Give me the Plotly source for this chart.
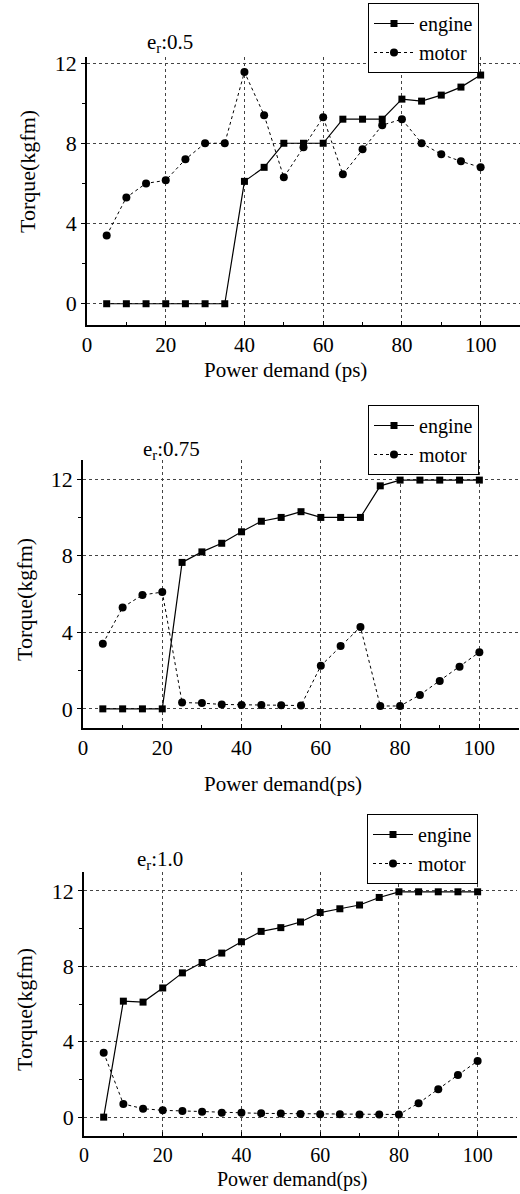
import plotly.graph_objects as go

power = [5, 10, 15, 20, 25, 30, 35, 40, 45, 50, 55, 60, 65, 70, 75, 80, 85, 90, 95, 100]

engine_050 = [0, 0, 0, 0, 0, 0, 0, 6.1, 6.8, 8.0, 8.0, 8.0, 9.2, 9.2, 9.2, 10.2, 10.1, 10.4, 10.8, 11.4]
motor_050 = [3.4, 5.3, 6.0, 6.15, 7.2, 8.0, 8.0, 11.55, 9.4, 6.3, 7.8, 9.3, 6.45, 7.7, 8.9, 9.2, 8.0, 7.45, 7.1, 6.8]

engine_075 = [0, 0, 0, 0, 7.65, 8.2, 8.65, 9.25, 9.8, 10.0, 10.3, 10.0, 10.0, 10.0, 11.65, 11.95, 11.95, 11.95, 11.95, 11.95]
motor_075 = [3.4, 5.3, 5.95, 6.1, 0.33, 0.3, 0.23, 0.2, 0.2, 0.19, 0.17, 2.25, 3.28, 4.28, 0.15, 0.15, 0.73, 1.46, 2.2, 2.96]

engine_100 = [0, 6.15, 6.1, 6.85, 7.65, 8.2, 8.7, 9.3, 9.85, 10.05, 10.35, 10.85, 11.05, 11.25, 11.65, 11.95, 11.95, 11.95, 11.95, 11.95]
motor_100 = [3.42, 0.7, 0.45, 0.36, 0.33, 0.29, 0.23, 0.23, 0.2, 0.19, 0.17, 0.16, 0.16, 0.14, 0.14, 0.14, 0.74, 1.48, 2.24, 2.98]

x_ticks = [0, 20, 40, 60, 80, 100]
y_ticks = [0, 4, 8, 12]
ratio_labels = ["e<sub>r</sub>:0.5", "e<sub>r</sub>:0.75", "e<sub>r</sub>:1.0"]
x_titles = ["Power demand (ps)", "Power demand(ps)", "Power demand(ps)"]
y_title = "Torque(kgfm)"

FONT = "Liberation Serif"
W, H = 520, 1194

panels = [
    dict(eng=engine_050, mot=motor_050, xdom=(87, 520), ypx=(57, 325), yr=(-1.06, 12.3),
         leg=(479, 3), ann=(170, 43), xt=(285, 370), yt=(27, 172), tfs=21, xtfs=21),
    dict(eng=engine_075, mot=motor_075, xdom=(83, 519), ypx=(460, 728), yr=(-1.0, 13.0),
         leg=(479, 405), ann=(171, 450), xt=(283, 784), yt=(24, 600), tfs=21, xtfs=21),
    dict(eng=engine_100, mot=motor_100, xdom=(84, 517), ypx=(872, 1136), yr=(-1.0, 13.0),
         leg=(478, 814), ann=(160, 860), xt=(292, 1179), yt=(24, 1010), tfs=20, xtfs=20),
]

fig = go.Figure()
layout = {}
for i, p in enumerate(panels):
    n = i + 1
    xa = "x" if n == 1 else f"x{n}"
    ya = "y" if n == 1 else f"y{n}"
    lg = "legend" if n == 1 else f"legend{n}"
    fig.add_trace(go.Scatter(
        x=power, y=p["eng"], name="engine", mode="lines+markers",
        line=dict(color="black", width=1.2),
        marker=dict(symbol="square", size=7, color="black"),
        xaxis=xa, yaxis=ya, legend=lg))
    fig.add_trace(go.Scatter(
        x=power, y=p["mot"], name="motor", mode="lines+markers",
        line=dict(color="black", width=1, dash="dot"),
        marker=dict(symbol="circle", size=8, color="black"),
        xaxis=xa, yaxis=ya, legend=lg))
    xkey = "xaxis" if n == 1 else f"xaxis{n}"
    ykey = "yaxis" if n == 1 else f"yaxis{n}"
    layout[xkey] = dict(
        domain=[p["xdom"][0] / W, p["xdom"][1] / W], anchor=ya, range=[0, 110],
        tickvals=x_ticks, ticks="inside", ticklen=4, tickcolor="black",
        minor=dict(tickvals=[10, 30, 50, 70, 90], ticks="inside", ticklen=3, tickcolor="black", showgrid=False),
        showline=True, linecolor="black", linewidth=1.5, mirror=False,
        showgrid=True, gridcolor="#444", griddash="dot", gridwidth=1,
        zeroline=False, tickfont=dict(family=FONT, size=p["tfs"], color="black"),
        automargin=False,
    )
    layout[ykey] = dict(
        domain=[1 - p["ypx"][1] / H, 1 - p["ypx"][0] / H], anchor=xa, range=list(p["yr"]),
        tickvals=y_ticks, ticks="outside", ticklen=4, tickcolor="black",
        minor=dict(tickvals=[2, 6, 10], ticks="outside", ticklen=3, tickcolor="black", showgrid=False),
        showline=True, linecolor="black", linewidth=1.5, mirror=False,
        showgrid=True, gridcolor="#444", griddash="dot", gridwidth=1,
        zeroline=False, tickfont=dict(family=FONT, size=22, color="black"),
        automargin=False,
    )
    layout[lg] = dict(
        x=p["leg"][0] / W, y=1 - p["leg"][1] / H, xanchor="right", yanchor="top",
        bordercolor="black", borderwidth=1, bgcolor="white",
        font=dict(family=FONT, size=20, color="black"),
        tracegroupgap=0, itemwidth=40,
    )

annotations = []
for i, p in enumerate(panels):
    annotations.append(dict(
        text=ratio_labels[i], x=p["ann"][0] / W, y=1 - p["ann"][1] / H,
        xref="paper", yref="paper", showarrow=False,
        font=dict(family=FONT, size=21, color="black"), xanchor="center", yanchor="middle"))
    annotations.append(dict(
        text=x_titles[i], x=p["xt"][0] / W, y=1 - p["xt"][1] / H,
        xref="paper", yref="paper", showarrow=False,
        font=dict(family=FONT, size=p["xtfs"], color="black"), xanchor="center", yanchor="middle"))
    annotations.append(dict(
        text=y_title, x=p["yt"][0] / W, y=1 - p["yt"][1] / H, textangle=-90,
        xref="paper", yref="paper", showarrow=False,
        font=dict(family=FONT, size=22, color="black"), xanchor="center", yanchor="middle"))

fig.update_layout(
    width=W, height=H, margin=dict(l=0, r=0, t=0, b=0, autoexpand=False),
    paper_bgcolor="white", plot_bgcolor="white",
    annotations=annotations, **layout)

fig.write_html("out.html", config={"displayModeBar": False},
               post_script="document.body.style.margin='0';document.body.style.padding='0';")
